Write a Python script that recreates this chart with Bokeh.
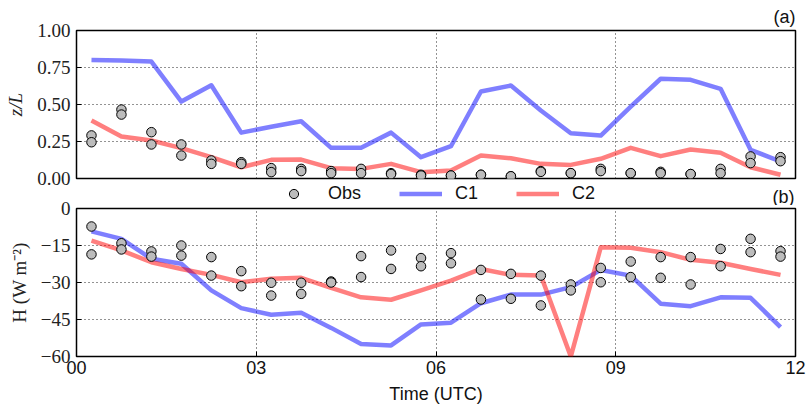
from bokeh.plotting import figure
from bokeh.layouts import column
from bokeh.models import (Legend, LegendItem, FixedTicker, Range1d, Title, Label)
from bokeh.embed import file_html
from bokeh.resources import INLINE

# ---------------- data ----------------
time_h = [0.25, 0.75, 1.25, 1.75, 2.25, 2.75, 3.25, 3.75, 4.25, 4.75, 5.25, 5.75,
          6.25, 6.75, 7.25, 7.75, 8.25, 8.75, 9.25, 9.75, 10.25, 10.75, 11.25, 11.75]

zl_c1 = [0.80, 0.797, 0.79, 0.52, 0.63, 0.31, 0.35, 0.387, 0.207, 0.207, 0.31, 0.144,
         0.218, 0.588, 0.628, 0.46, 0.306, 0.29, 0.486, 0.674, 0.667, 0.606, 0.194, 0.115]
zl_c2 = [0.392, 0.284, 0.257, 0.205, 0.144, 0.076, 0.126, 0.128, 0.07, 0.065, 0.099, 0.043,
         0.054, 0.155, 0.137, 0.099, 0.092, 0.133, 0.207, 0.151, 0.196, 0.174, 0.076, 0.025]
zl_obs_a = [0.291, 0.466, 0.313, 0.23, 0.122, 0.11, 0.07, 0.065, 0.05, 0.065, 0.036, 0.025,
            0.02, 0.025, 0.015, 0.05, 0.036, 0.065, 0.036, 0.045, 0.03, 0.065, 0.149, 0.144]
zl_obs_b = [0.245, 0.432, 0.23, 0.155, 0.099, 0.099, 0.043, 0.05, 0.036, 0.036, 0.03, 0.02,
            0.02, 0.025, 0.015, 0.045, 0.036, 0.05, 0.036, 0.036, 0.03, 0.036, 0.104, 0.117]

h_c1 = [-9.3, -12.3, -20.4, -22.4, -33.2, -40.4, -43.1, -42.3, -48.4, -54.9, -55.5, -47.0,
        -46.3, -38.4, -34.9, -34.9, -31.9, -24.9, -27.2, -38.6, -39.6, -36.0, -36.2, -48.1]
h_c2 = [-13.0, -17.0, -21.8, -24.5, -26.9, -29.9, -28.5, -28.1, -32.2, -36.0, -37.0, -33.2,
        -29.2, -24.5, -26.9, -27.2, -60.0, -15.7, -15.9, -17.7, -20.8, -22.0, -24.5, -26.9]
h_obs_a = [-7.3, -14.1, -17.4, -15.0, -19.7, -25.4, -30.1, -30.1, -29.6, -19.3, -17.0, -20.1,
           -18.1, -24.9, -26.5, -27.2, -30.8, -24.1, -21.5, -19.7, -19.7, -16.4, -12.3, -17.3]
h_obs_b = [-18.6, -16.6, -19.5, -19.1, -27.2, -31.5, -35.3, -34.6, -30.0, -27.8, -24.5, -23.4,
           -22.2, -36.9, -36.6, -39.3, -33.2, -29.9, -27.8, -28.1, -30.8, -23.4, -17.7, -19.5]

x_ticks = [0, 3, 6, 9, 12]
x_tick_labels = ["00", "03", "06", "09", "12"]
zl_ticks = [0.0, 0.25, 0.5, 0.75, 1.0]
zl_tick_labels = ["0.00", "0.25", "0.50", "0.75", "1.00"]
h_ticks = [-60, -45, -30, -15, 0]
h_tick_labels = ["\u221260", "\u221245", "\u221230", "\u221215", "0"]

series_names = ["Obs", "C1", "C2"]
panel_tags = ["(a)", "(b)"]

# ---------------- style ----------------
SERIF = "Liberation Serif"
SANS = "Liberation Sans"
BLUE = "#0000ff"
RED = "#ff0000"
LW = 4.5
OBS_FILL = "#bcbcbc"
FW, FH = 719, 148


def style(p, yticks, ylabels, ylabel, italic, show_x):
    p.outline_line_color = "black"
    p.outline_line_width = 1.5
    p.outline_line_alpha = 1.0
    for g in (p.xgrid[0], p.ygrid[0]):
        g.grid_line_color = "#000000"
        g.grid_line_dash = "1 3"
        g.grid_line_width = 1
        g.grid_line_alpha = 0.85
    p.xgrid[0].ticker = FixedTicker(ticks=x_ticks)
    p.ygrid[0].ticker = FixedTicker(ticks=yticks)

    ya = p.yaxis[0]
    ya.ticker = FixedTicker(ticks=yticks)
    ya.major_label_overrides = {t: l for t, l in zip(yticks, ylabels)}
    ya.major_label_text_font = SERIF
    ya.major_label_text_font_size = "19px"
    ya.major_label_text_color = "#222222"
    ya.major_tick_in = 5
    ya.major_tick_out = 0
    ya.minor_tick_line_color = None
    ya.axis_line_color = None
    ya.major_label_standoff = 6
    ya.axis_label = ylabel
    ya.axis_label_text_font = SERIF
    ya.axis_label_text_font_size = "19px"
    ya.axis_label_text_font_style = "italic" if italic else "normal"
    ya.axis_label_text_color = "#222222"
    ya.axis_label_standoff = 8

    xa = p.xaxis[0]
    xa.ticker = FixedTicker(ticks=x_ticks)
    xa.minor_tick_line_color = None
    xa.axis_line_color = None
    xa.major_tick_in = 5
    xa.major_tick_out = 0
    if show_x:
        xa.major_label_overrides = {t: l for t, l in zip(x_ticks, x_tick_labels)}
        xa.major_label_text_font = SANS
        xa.major_label_text_font_size = "18px"
        xa.major_label_text_color = "#111111"
        xa.major_label_standoff = 4
        xa.axis_label = "Time (UTC)"
        xa.axis_label_text_font = SANS
        xa.axis_label_text_font_size = "18px"
        xa.axis_label_text_font_style = "normal"
        xa.axis_label_text_color = "#111111"
        xa.axis_label_standoff = 7
    else:
        xa.visible = False


def add_series(p, c1, c2, oa, ob):
    r1 = p.line(time_h, c1, line_color=BLUE, line_alpha=0.5, line_width=LW, line_join="round")
    r2 = p.line(time_h, c2, line_color=RED, line_alpha=0.5, line_width=LW, line_join="round")
    ro = p.scatter(time_h + time_h, oa + ob, size=9.5, fill_color=OBS_FILL,
                   line_color="black", line_width=1)
    return ro, r1, r2


# ---------------- top panel ----------------
p1 = figure(frame_width=FW, frame_height=FH, x_range=Range1d(0, 12), y_range=Range1d(0, 1),
            output_backend="svg", toolbar_location=None,
            min_border_left=76, min_border_right=12, min_border_top=30, min_border_bottom=14)
p1.title = Title(text=panel_tags[0], align="right", text_font=SANS, text_font_size="18px",
                 text_font_style="normal", text_color="#111111", standoff=7)
style(p1, zl_ticks, zl_tick_labels, "z/L", True, False)
add_series(p1, zl_c1, zl_c2, zl_obs_a, zl_obs_b)

# ---------------- legend strip (series drawn off-view, only their legend shows) ----------------
pm = figure(frame_width=FW, frame_height=24, x_range=Range1d(0, 12), y_range=Range1d(100, 101),
            output_backend="svg", toolbar_location=None, min_border=0,
            min_border_left=76, min_border_right=12,
            x_axis_location=None, y_axis_location=None, margin=(-11, 0, -11, 0))
pm.outline_line_color = None
pm.background_fill_color = None
pm.border_fill_color = None
pm.xgrid.visible = False
pm.ygrid.visible = False
lmo, lm1, lm2 = add_series(pm, h_c1, h_c2, h_obs_a, h_obs_b)
legend = Legend(items=[LegendItem(label=series_names[0], renderers=[lmo]),
                       LegendItem(label=series_names[1], renderers=[lm1]),
                       LegendItem(label=series_names[2], renderers=[lm2])],
                orientation="horizontal", location=(196, 0),
                glyph_width=43, glyph_height=23, label_height=23, label_standoff=13,
                spacing=38, padding=0, margin=0, border_line_color=None,
                background_fill_alpha=0, label_text_font=SANS, label_text_font_size="18px",
                label_text_color="#111111")
pm.add_layout(legend, "center")
pm.add_layout(Label(x=718, y=9, x_units="screen", y_units="screen", text=panel_tags[1],
                    text_align="right", text_baseline="middle", text_font=SANS,
                    text_font_size="18px", text_color="#111111"))

# ---------------- bottom panel ----------------
p2 = figure(frame_width=FW, frame_height=FH, x_range=p1.x_range, y_range=Range1d(-60, 0),
            output_backend="svg", toolbar_location=None,
            min_border_left=76, min_border_right=12, min_border_top=14, min_border_bottom=49)
p2.border_fill_color = None
style(p2, h_ticks, h_tick_labels, "H (W m\u207b\u00b2)", False, True)
add_series(p2, h_c1, h_c2, h_obs_a, h_obs_b)

layout = column(p1, pm, p2, spacing=0)
open("out.html", "w").write(file_html(layout, INLINE))
